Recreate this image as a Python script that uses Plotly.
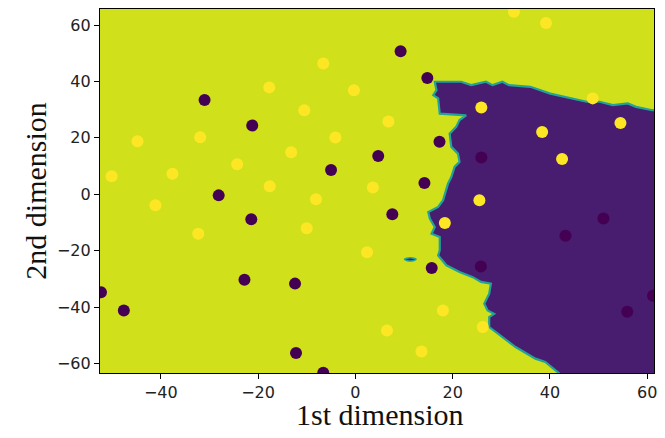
import plotly.graph_objects as go

# ---- data ----
yellow_x = [-50.1, -44.8, -37.6, -31.9, -24.3, -17.7, -10.5, -6.6, -0.3, -13.2, -4.1, -17.6,
            -41.1, -32.3, -8.1, -10.0, 32.6, 39.2, 25.9, 48.8, 54.5, 38.4, 42.5, 6.8,
            3.6, 25.5, 18.4, 2.4, 18.0, 6.5, 26.2, 13.6]
yellow_y = [6.4, 18.8, 7.3, 20.2, 10.6, 37.9, 29.8, 46.4, 36.9, 14.9, 20.1, 2.8,
            -3.9, -14.0, -1.8, -12.1, 64.7, 60.7, 30.8, 34.0, 25.3, 22.1, 12.5, 25.8,
            2.4, -2.1, -10.2, -20.6, -41.2, -48.3, -47.1, -55.8]

purple_x = [-31.0, -21.2, -5.0, -28.1, -21.4, -22.8, -12.4, -52.3, -47.6, -12.2, -6.6,
            9.3, 14.8, 17.3, 4.7, 25.9, 14.2, 7.6, 51.0, 43.2, 15.7, 25.8, 61.2, 55.9]
purple_y = [33.4, 24.4, 8.6, -0.4, -8.9, -30.3, -31.7, -34.8, -41.2, -56.3, -63.3,
            50.7, 41.2, 18.6, 13.6, 13.0, 4.0, -7.1, -8.6, -14.7, -26.2, -25.6, -36.0, -41.7]

# decision region (class 0) outline
region_x = [62.0, 61.07, 57.70, 55.99, 52.94, 50.23, 47.53, 43.46, 40.07, 36.00, 31.58, 30.24,
            28.21, 26.85, 23.80, 21.76, 16.33, 16.68, 16.01, 17.02, 17.35, 22.78, 21.42, 20.74,
            19.38, 19.73, 21.09, 21.42, 20.40, 19.73, 19.06, 18.04, 17.02, 14.99, 15.31, 16.33,
            15.66, 17.35, 17.35, 17.02, 18.71, 21.42, 24.14, 25.83, 27.86, 27.52, 26.50, 27.19,
            28.53, 27.52, 27.52, 32.95, 37.01, 39.05, 42.6, 62.0, 62.0]
region_y = [29.8, 29.8, 31.0, 32.2, 31.6, 32.8, 32.8, 34.5, 35.7, 38.1, 38.7, 39.9,
            38.7, 39.9, 38.7, 39.9, 39.9, 36.9, 35.1, 34.0, 28.6, 28.0, 26.3, 23.9,
            21.5, 16.8, 14.4, 11.5, 9.7, 6.1, 3.8, -2.1, -4.5, -6.3, -8.6, -11.6,
            -14.0, -15.2, -19.9, -21.7, -25.2, -27.6, -29.4, -31.1, -31.7, -35.3, -38.8, -41.2,
            -42.4, -43.6, -47.1, -54.2, -58.3, -59.5, -64.5, -64.5, 29.8]

island_x = [10.1, 11.3, 12.5, 11.3, 10.1]
island_y = [-23.1, -22.5, -23.1, -23.7, -23.1]

x_ticks = [-40, -20, 0, 20, 40, 60]
y_ticks = [-60, -40, -20, 0, 20, 40, 60]

YELLOW_BG = "#d0e11c"
PURPLE_BG = "#481c6e"
EDGE = "#22a39a"

fig = go.Figure()
fig.add_trace(go.Scatter(x=region_x, y=region_y, mode="lines", fill="toself",
                         fillcolor=PURPLE_BG, line=dict(color=EDGE, width=2.2),
                         hoverinfo="skip", showlegend=False))
fig.add_trace(go.Scatter(x=island_x, y=island_y, mode="lines", fill="toself",
                         fillcolor=PURPLE_BG, line=dict(color=EDGE, width=1.5, shape="spline"),
                         hoverinfo="skip", showlegend=False))
fig.add_trace(go.Scatter(x=yellow_x, y=yellow_y, mode="markers",
                         marker=dict(color="#fde725", size=12, line=dict(width=0)),
                         showlegend=False))
fig.add_trace(go.Scatter(x=purple_x, y=purple_y, mode="markers",
                         marker=dict(color="#440154", size=12, line=dict(width=0)),
                         showlegend=False))

def fmt(v):
    return ("\u2212" + str(-v)) if v < 0 else str(v)

axis_common = dict(showgrid=False, zeroline=False, showline=True, linecolor="black",
                   linewidth=1.3, mirror=True, ticks="outside", ticklen=5, tickwidth=1,
                   tickcolor="black", ticklabeloverflow="allow",
                   tickfont=dict(family="DejaVu Sans", size=16, color="#222222"))

# the page adds an 8px body margin, so the figure is sized/offset to compensate
fig.update_layout(
    width=649, height=422,
    margin=dict(l=92, r=3, t=1, b=57),
    paper_bgcolor="white", plot_bgcolor=YELLOW_BG,
    xaxis=dict(range=[-52.5, 61.4], tickvals=x_ticks, ticktext=[fmt(v) for v in x_ticks],
               **axis_common),
    yaxis=dict(range=[-63.4, 65.7], tickvals=y_ticks, ticktext=[fmt(v) for v in y_ticks],
               **axis_common),
    annotations=[
        dict(text="1st dimension", xref="paper", yref="paper", x=0.505, y=-0.113,
             xanchor="center", yanchor="middle", showarrow=False,
             font=dict(family="Liberation Serif", size=30, color="#111111")),
        dict(text="2nd dimension", xref="paper", yref="paper", x=-0.118, y=0.5,
             xanchor="center", yanchor="middle", showarrow=False, textangle=-90,
             font=dict(family="Liberation Serif", size=30, color="#111111")),
    ],
)

fig.write_html("out.html")
